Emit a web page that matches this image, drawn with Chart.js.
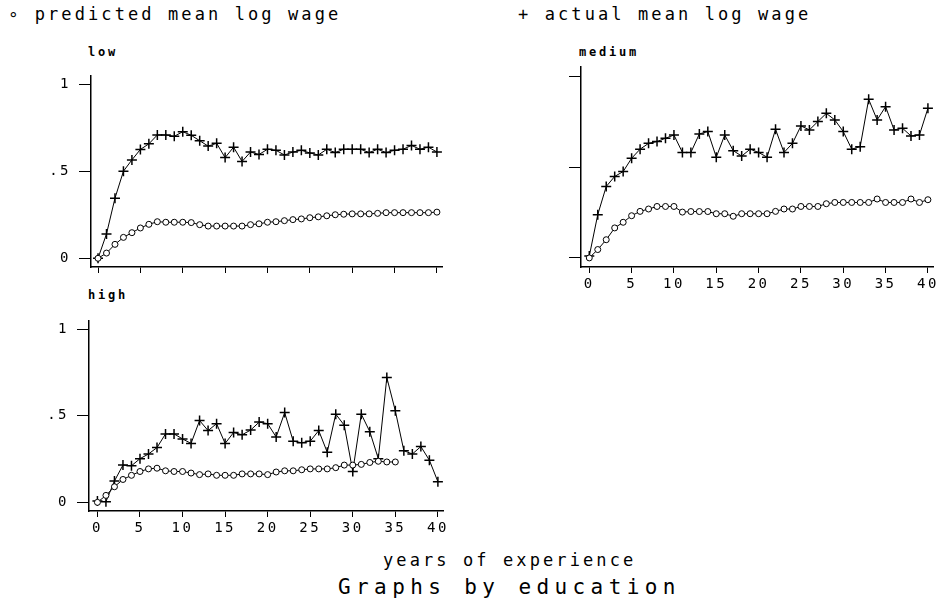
<!DOCTYPE html>
<html lang="en">
	<head>
		<meta charset="utf-8">
		<title>Mean log wage by years of experience</title>
		<style>
			body {
				margin: 0;
				width: 940px;
				height: 602px;
				background-color: #FFF;
				position: relative;
				overflow: hidden;
				font-family: "DejaVu Sans Mono", "Liberation Mono", monospace;
				color: #000;
			}
			canvas, .txt {
				position: absolute;
			}
			.txt {
				white-space: pre;
				line-height: 1;
			}
			.legend { font-size: 17px; letter-spacing: 3.1px; }
			.panel { font-size: 12px; font-weight: bold; letter-spacing: 2.8px; }
		</style>
		<script src="https://cdn.jsdelivr.net/npm/chart.js"></script>
	</head>
	<body>
		<div class="txt legend" style="left:8px; top:6px;">∘ predicted mean log wage</div>
		<div class="txt legend" style="left:518px; top:6px;">+ actual mean log wage</div>
		<div class="txt panel" style="left:88px; top:46px;">low</div>
		<div class="txt panel" style="left:579px; top:46px;">medium</div>
		<div class="txt panel" style="left:88px; top:289px;">high</div>
		<div class="txt legend" style="left:383px; top:552px;">years of experience</div>
		<div class="txt" style="left:338px; top:577px; font-size:21px; letter-spacing:5.4px;">Graphs by education</div>

		<canvas id="low" width="399" height="238" style="left:51px; top:59px;"></canvas>
		<canvas id="medium" width="400" height="238" style="left:541px; top:59px;"></canvas>
		<canvas id="high" width="402" height="237" style="left:49px; top:304px;"></canvas>

		<script>
			const years = [];
			for (let i = 0; i <= 40; i++) years.push(i);
			const xTicks = [0, 5, 10, 15, 20, 25, 30, 35, 40];
			const yTicks = [0, 0.5, 1];

			const lowPred = [0, 0.03, 0.08, 0.12, 0.147, 0.174, 0.195, 0.21, 0.207, 0.207, 0.207, 0.205, 0.193, 0.185, 0.185, 0.185, 0.185, 0.185, 0.193, 0.198, 0.207, 0.21, 0.216, 0.222, 0.226, 0.233, 0.238, 0.244, 0.25, 0.253, 0.255, 0.255, 0.255, 0.258, 0.262, 0.262, 0.262, 0.262, 0.262, 0.262, 0.265];
			const lowAct = [0, 0.14, 0.345, 0.5, 0.565, 0.625, 0.657, 0.708, 0.708, 0.7, 0.727, 0.706, 0.675, 0.644, 0.66, 0.578, 0.638, 0.556, 0.61, 0.596, 0.626, 0.62, 0.593, 0.61, 0.62, 0.605, 0.593, 0.626, 0.607, 0.626, 0.626, 0.626, 0.607, 0.626, 0.607, 0.62, 0.626, 0.648, 0.626, 0.638, 0.61];

			const medPred = [0, 0.046, 0.1, 0.165, 0.196, 0.232, 0.256, 0.269, 0.283, 0.283, 0.283, 0.252, 0.255, 0.255, 0.255, 0.243, 0.243, 0.229, 0.243, 0.243, 0.243, 0.243, 0.256, 0.269, 0.269, 0.283, 0.283, 0.283, 0.298, 0.305, 0.305, 0.305, 0.305, 0.305, 0.324, 0.305, 0.305, 0.305, 0.324, 0.305, 0.32];
			const medAct = [0.01, 0.238, 0.393, 0.448, 0.475, 0.548, 0.598, 0.63, 0.64, 0.658, 0.676, 0.58, 0.58, 0.682, 0.695, 0.554, 0.676, 0.59, 0.56, 0.598, 0.58, 0.554, 0.707, 0.58, 0.63, 0.726, 0.704, 0.75, 0.795, 0.759, 0.695, 0.598, 0.612, 0.872, 0.759, 0.832, 0.704, 0.713, 0.671, 0.676, 0.823];

			// predicted series for "high" stops at 35 years
			const highPred = [0, 0.04, 0.09, 0.132, 0.156, 0.178, 0.193, 0.197, 0.182, 0.178, 0.178, 0.169, 0.16, 0.164, 0.156, 0.156, 0.156, 0.164, 0.164, 0.164, 0.16, 0.175, 0.182, 0.182, 0.188, 0.193, 0.193, 0.193, 0.2, 0.215, 0.215, 0.219, 0.23, 0.237, 0.233, 0.233];
			const highAct = [0.007, 0.004, 0.123, 0.215, 0.211, 0.252, 0.279, 0.316, 0.395, 0.395, 0.366, 0.34, 0.472, 0.414, 0.454, 0.34, 0.403, 0.39, 0.417, 0.463, 0.454, 0.377, 0.518, 0.353, 0.344, 0.353, 0.414, 0.289, 0.509, 0.445, 0.178, 0.509, 0.408, 0.252, 0.72, 0.528, 0.298, 0.279, 0.322, 0.243, 0.119];

			const tickFont = { family: "'DejaVu Sans Mono', monospace", size: 14 };

			// chart.js has no letter spacing option, set it on the context
			const spacing = {
				id: "spacing",
				beforeDraw(chart) { chart.ctx.letterSpacing = "2.5px"; }
			};

			function yLabel(v) {
				if (v == 0) return "0";
				if (v == 1) return "1";
				return ".5";
			}

			function makePanel(id, xMin, pred, act, showX, showY) {
				new Chart(document.getElementById(id), {
					type: "line",
					data: {
						labels: years,
						datasets: [{
							label: "predicted mean log wage",
							data: pred,
							borderColor: "#000",
							borderWidth: 1,
							pointStyle: "circle",
							pointRadius: 3,
							pointBorderWidth: 1,
							pointBorderColor: "#000",
							pointBackgroundColor: "#FFF",
							tension: 0
						},{
							label: "actual mean log wage",
							data: act,
							borderColor: "#000",
							borderWidth: 1,
							pointStyle: "cross",
							pointRadius: 5,
							pointBorderWidth: 1.5,
							pointBorderColor: "#000",
							tension: 0
						}]
					},
					options: {
						responsive: false,
						animation: false,
						devicePixelRatio: 1,
						layout: { padding: { top: 8, right: 8, left: 0, bottom: 0 } },
						plugins: {
							legend: { display: false },
							title: { display: false },
							tooltip: { enabled: false }
						},
						scales: {
							x: {
								type: "linear",
								min: xMin,
								max: 40.6,
								afterBuildTicks: s => { s.ticks = xTicks.map(v => ({ value: v })); },
								afterFit: s => { s.height = 30; },
								ticks: { display: showX, color: "#000", font: tickFont, padding: 3, maxRotation: 0, autoSkip: false },
								grid: { display: true, drawOnChartArea: false, drawTicks: true, tickLength: 6, color: "#000", lineWidth: 1 },
								border: { display: true, color: "#000", width: 1.5 }
							},
							y: {
								min: -0.05,
								max: 1.05,
								afterBuildTicks: s => { s.ticks = yTicks.map(v => ({ value: v })); },
								afterFit: s => { s.width = 40; },
								ticks: { display: showY, color: "#000", font: tickFont, padding: 8, callback: yLabel },
								grid: { display: true, drawOnChartArea: false, drawTicks: true, tickLength: 12, color: "#000", lineWidth: 1 },
								border: { display: true, color: "#000", width: 1.5 }
							}
						}
					},
					plugins: [spacing]
				});
			}

			makePanel("low", -0.83, lowPred, lowAct, false, true);
			makePanel("medium", -0.98, medPred, medAct, true, false);
			makePanel("high", -0.99, highPred, highAct, true, true);
		</script>
	</body>
</html>
